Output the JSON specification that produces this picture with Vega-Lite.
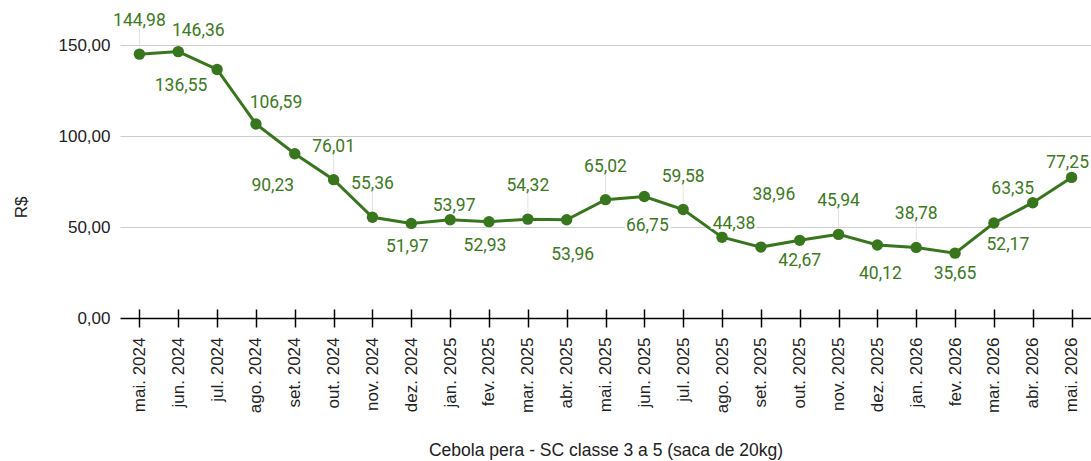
{
  "$schema": "https://vega.github.io/schema/vega-lite/v6.json",
  "width": 971,
  "height": 273,
  "autosize": {"type": "none"},
  "padding": {"left": 120, "top": 45, "right": 0, "bottom": 143},
  "background": "white",
  "config": {
    "view": {"stroke": null},
    "text": {"font": "Roboto", "fontSize": 17.5, "fill": "#3b7a20", "baseline": "middle"},
    "locale": {"number": {"decimal": ",", "thousands": ".", "grouping": [3], "currency": ["R$ ", ""]}}
  },
  "data": {
    "values": [
      {"mes": "mai. 2024", "preco": 144.98},
      {"mes": "jun. 2024", "preco": 146.36},
      {"mes": "jul. 2024", "preco": 136.55},
      {"mes": "ago. 2024", "preco": 106.59},
      {"mes": "set. 2024", "preco": 90.23},
      {"mes": "out. 2024", "preco": 76.01},
      {"mes": "nov. 2024", "preco": 55.36},
      {"mes": "dez. 2024", "preco": 51.97},
      {"mes": "jan. 2025", "preco": 53.97},
      {"mes": "fev. 2025", "preco": 52.93},
      {"mes": "mar. 2025", "preco": 54.32},
      {"mes": "abr. 2025", "preco": 53.96},
      {"mes": "mai. 2025", "preco": 65.02},
      {"mes": "jun. 2025", "preco": 66.75},
      {"mes": "jul. 2025", "preco": 59.58},
      {"mes": "ago. 2025", "preco": 44.38},
      {"mes": "set. 2025", "preco": 38.96},
      {"mes": "out. 2025", "preco": 42.67},
      {"mes": "nov. 2025", "preco": 45.94},
      {"mes": "dez. 2025", "preco": 40.12},
      {"mes": "jan. 2026", "preco": 38.78},
      {"mes": "fev. 2026", "preco": 35.65},
      {"mes": "mar. 2026", "preco": 52.17},
      {"mes": "abr. 2026", "preco": 63.35},
      {"mes": "mai. 2026", "preco": 77.25}
    ]
  },
  "encoding": {
    "x": {
      "field": "mes",
      "type": "ordinal",
      "sort": null,
      "scale": {
        "type": "point",
        "padding": 0.5,
        "domain": ["mai. 2024", "jun. 2024", "jul. 2024", "ago. 2024", "set. 2024", "out. 2024", "nov. 2024", "dez. 2024", "jan. 2025", "fev. 2025", "mar. 2025", "abr. 2025", "mai. 2025", "jun. 2025", "jul. 2025", "ago. 2025", "set. 2025", "out. 2025", "nov. 2025", "dez. 2025", "jan. 2026", "fev. 2026", "mar. 2026", "abr. 2026", "mai. 2026"]
      },
      "axis": {
        "title": "Cebola pera - SC classe 3 a 5 (saca de 20kg)",
        "labelAngle": -90,
        "labelAlign": "right",
        "labelBaseline": "middle",
        "labelOverlap": false,
        "domain": false,
        "grid": false,
        "ticks": true,
        "tickSize": 18,
        "tickWidth": 1.5,
        "tickColor": "#000000",
        "offset": -9,
        "labelPadding": 10,
        "labelFont": "Liberation Sans",
        "labelFontSize": 17,
        "labelColor": "#222222",
        "titleFont": "Liberation Sans",
        "titleFontSize": 17.5,
        "titleFontWeight": "normal",
        "titleColor": "#222222",
        "titleBaseline": "alphabetic",
        "titleY": 146
      }
    },
    "y": {
      "field": "preco",
      "type": "quantitative",
      "scale": {"domain": [0, 150], "nice": false},
      "axis": {
        "title": "R$",
        "values": [0, 50, 100, 150],
        "format": ".2f",
        "ticks": false,
        "tickSize": 0,
        "domain": false,
        "labelPadding": 10,
        "labelFont": "Liberation Sans",
        "labelFontSize": 17,
        "labelColor": "#222222",
        "gridColor": {"condition": {"test": "datum.value === 0", "value": "#000000"}, "value": "#cccccc"},
        "gridWidth": {"condition": {"test": "datum.value === 0", "value": 1.5}, "value": 1},
        "titleFont": "Liberation Sans",
        "titleFontSize": 17,
        "titleFontWeight": "normal",
        "titleColor": "#222222",
        "titleAngle": -90,
        "titleAlign": "center",
        "titleBaseline": "middle",
        "titleX": -99,
        "titleY": 162
      }
    },
    "text": {"field": "preco", "type": "quantitative", "format": ".2f"}
  },
  "layer": [
    {
      "transform": [{"filter": {"field": "mes", "oneOf": ["mai. 2024", "out. 2024", "nov. 2024", "mar. 2025", "mai. 2025", "jul. 2025", "nov. 2025", "jan. 2026"]}}],
      "mark": {"type": "rule", "color": "#e2e2e2", "strokeWidth": 1, "yOffset": -7, "y2Offset": -25},
      "encoding": {"y2": {"field": "preco"}, "text": null}
    },
    {
      "mark": {"type": "line", "color": "#38761d", "strokeWidth": 3},
      "encoding": {"text": null}
    },
    {
      "mark": {"type": "point", "filled": true, "opacity": 1, "color": "#38761d", "size": 130},
      "encoding": {"text": null}
    },
    {
      "transform": [{"filter": {"field": "mes", "oneOf": ["mai. 2024", "out. 2024", "nov. 2024", "mar. 2025", "mai. 2025", "jul. 2025", "nov. 2025", "jan. 2026"]}}],
      "mark": {"type": "text", "dy": -33}
    },
    {
      "transform": [{"filter": {"field": "mes", "oneOf": ["jun. 2024", "ago. 2024"]}}],
      "mark": {"type": "text", "dx": 20, "dy": -21}
    },
    {
      "transform": [{"filter": {"field": "mes", "oneOf": ["jul. 2024"]}}],
      "mark": {"type": "text", "dx": -36, "dy": 17}
    },
    {
      "transform": [{"filter": {"field": "mes", "oneOf": ["set. 2024"]}}],
      "mark": {"type": "text", "dx": -22, "dy": 32}
    },
    {
      "transform": [{"filter": {"field": "mes", "oneOf": ["dez. 2024", "fev. 2025"]}}],
      "mark": {"type": "text", "dx": -4, "dy": 24}
    },
    {
      "transform": [{"filter": {"field": "mes", "oneOf": ["jan. 2025"]}}],
      "mark": {"type": "text", "dx": 4, "dy": -14}
    },
    {
      "transform": [{"filter": {"field": "mes", "oneOf": ["mai. 2026"]}}],
      "mark": {"type": "text", "dx": -4, "dy": -14}
    },
    {
      "transform": [{"filter": {"field": "mes", "oneOf": ["abr. 2025"]}}],
      "mark": {"type": "text", "dx": 6, "dy": 35}
    },
    {
      "transform": [{"filter": {"field": "mes", "oneOf": ["jun. 2025", "dez. 2025"]}}],
      "layer": [
        {"mark": {"type": "text", "dx": 3, "dy": 29, "stroke": "white", "strokeWidth": 5, "fill": "white"}},
        {"mark": {"type": "text", "dx": 3, "dy": 29}}
      ]
    },
    {
      "transform": [{"filter": {"field": "mes", "oneOf": ["ago. 2025"]}}],
      "layer": [
        {"mark": {"type": "text", "dx": 12, "dy": -13, "stroke": "white", "strokeWidth": 5, "fill": "white"}},
        {"mark": {"type": "text", "dx": 12, "dy": -13}}
      ]
    },
    {
      "transform": [{"filter": {"field": "mes", "oneOf": ["set. 2025"]}}],
      "mark": {"type": "text", "dx": 13, "dy": -52}
    },
    {
      "transform": [{"filter": {"field": "mes", "oneOf": ["out. 2025", "fev. 2026"]}}],
      "mark": {"type": "text", "dx": 0, "dy": 21}
    },
    {
      "transform": [{"filter": {"field": "mes", "oneOf": ["mar. 2026"]}}],
      "mark": {"type": "text", "dx": 14, "dy": 22}
    },
    {
      "transform": [{"filter": {"field": "mes", "oneOf": ["abr. 2026"]}}],
      "mark": {"type": "text", "dx": -20, "dy": -14}
    }
  ]
}
